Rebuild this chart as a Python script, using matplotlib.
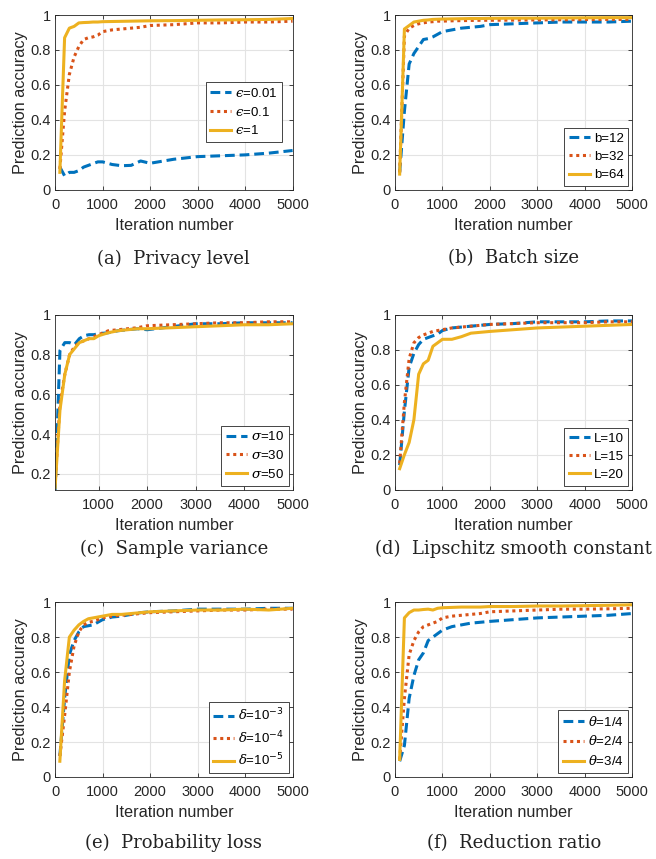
import matplotlib
matplotlib.use('Agg')
import matplotlib.pyplot as plt

plt.rcParams['font.family'] = ['Liberation Sans', 'DejaVu Sans']
plt.rcParams['mathtext.fontset'] = 'dejavuserif'

# iteration numbers shared by every curve
iters = [100, 200, 300, 400, 500, 600, 700, 800, 900, 1000,
         1200, 1400, 1600, 1800, 2000, 2500, 3000, 3500, 4000, 4500, 5000]

# (a) privacy level
acc_eps_001 = [0.13, 0.08, 0.10, 0.10, 0.11, 0.13, 0.14, 0.15, 0.16, 0.16,
               0.145, 0.138, 0.14, 0.165, 0.152, 0.175, 0.19, 0.195, 0.20, 0.21, 0.225]
acc_eps_01 = [0.12, 0.45, 0.66, 0.76, 0.82, 0.86, 0.87, 0.875, 0.885, 0.905,
              0.915, 0.92, 0.925, 0.93, 0.94, 0.945, 0.955, 0.955, 0.96, 0.96, 0.965]
acc_eps_1 = [0.10, 0.87, 0.925, 0.935, 0.955, 0.957, 0.958, 0.96, 0.96, 0.962,
             0.963, 0.964, 0.965, 0.966, 0.967, 0.968, 0.97, 0.972, 0.973, 0.975, 0.98]

# (b) batch size
acc_b12 = [0.10, 0.45, 0.72, 0.78, 0.82, 0.86, 0.865, 0.875, 0.89, 0.905,
           0.915, 0.925, 0.93, 0.935, 0.945, 0.95, 0.955, 0.96, 0.96, 0.96, 0.965]
acc_b32 = [0.10, 0.88, 0.925, 0.94, 0.95, 0.955, 0.96, 0.962, 0.965, 0.965,
           0.967, 0.968, 0.969, 0.97, 0.97, 0.971, 0.972, 0.973, 0.974, 0.975, 0.975]
acc_b64 = [0.09, 0.92, 0.94, 0.96, 0.965, 0.97, 0.972, 0.975, 0.976, 0.977,
           0.978, 0.979, 0.98, 0.98, 0.981, 0.982, 0.982, 0.983, 0.984, 0.985, 0.985]

# (c) sample variance
acc_s10 = [0.11, 0.82, 0.86, 0.86, 0.85, 0.88, 0.895, 0.90, 0.90, 0.905,
           0.91, 0.92, 0.925, 0.93, 0.925, 0.94, 0.955, 0.955, 0.96, 0.96, 0.96]
acc_s30 = [0.15, 0.55, 0.70, 0.80, 0.84, 0.86, 0.87, 0.88, 0.89, 0.90,
           0.92, 0.925, 0.93, 0.935, 0.945, 0.95, 0.955, 0.96, 0.96, 0.965, 0.965]
acc_s50 = [0.13, 0.52, 0.70, 0.80, 0.83, 0.86, 0.87, 0.88, 0.88, 0.895,
           0.91, 0.92, 0.925, 0.93, 0.93, 0.935, 0.94, 0.945, 0.95, 0.95, 0.955]

# (d) Lipschitz smooth constant
acc_L10 = [0.14, 0.45, 0.70, 0.78, 0.83, 0.86, 0.87, 0.88, 0.89, 0.91,
           0.925, 0.93, 0.935, 0.94, 0.945, 0.95, 0.96, 0.96, 0.96, 0.965, 0.965]
acc_L15 = [0.15, 0.50, 0.75, 0.84, 0.87, 0.885, 0.895, 0.905, 0.91, 0.915,
           0.925, 0.93, 0.935, 0.94, 0.945, 0.95, 0.955, 0.955, 0.955, 0.96, 0.96]
acc_L20 = [0.12, 0.20, 0.27, 0.40, 0.66, 0.72, 0.74, 0.82, 0.84, 0.86,
           0.86, 0.875, 0.895, 0.90, 0.905, 0.915, 0.925, 0.93, 0.935, 0.94, 0.945]

# (e) probability loss
acc_d3 = [0.12, 0.45, 0.70, 0.78, 0.83, 0.86, 0.865, 0.87, 0.885, 0.90,
          0.915, 0.92, 0.93, 0.94, 0.945, 0.95, 0.96, 0.96, 0.96, 0.965, 0.965]
acc_d4 = [0.12, 0.35, 0.60, 0.75, 0.83, 0.87, 0.885, 0.89, 0.90, 0.91,
          0.92, 0.925, 0.93, 0.935, 0.94, 0.945, 0.95, 0.955, 0.955, 0.96, 0.96]
acc_d5 = [0.09, 0.55, 0.80, 0.84, 0.87, 0.89, 0.905, 0.91, 0.915, 0.92,
          0.93, 0.93, 0.935, 0.94, 0.945, 0.95, 0.955, 0.955, 0.96, 0.955, 0.965]

# (f) reduction ratio
acc_t14 = [0.09, 0.18, 0.45, 0.58, 0.67, 0.71, 0.78, 0.80, 0.82, 0.84,
           0.86, 0.87, 0.88, 0.885, 0.89, 0.90, 0.91, 0.915, 0.92, 0.925, 0.935]
acc_t24 = [0.10, 0.45, 0.70, 0.78, 0.83, 0.86, 0.87, 0.88, 0.89, 0.91,
           0.92, 0.925, 0.93, 0.935, 0.945, 0.95, 0.955, 0.96, 0.96, 0.962, 0.965]
acc_t34 = [0.10, 0.91, 0.94, 0.955, 0.955, 0.958, 0.96, 0.955, 0.965, 0.968,
           0.97, 0.972, 0.972, 0.972, 0.975, 0.975, 0.978, 0.978, 0.98, 0.982, 0.985]

panels = [
    ('(a)  Privacy level', [acc_eps_001, acc_eps_01, acc_eps_1],
     ['$\u03f5$=0.01', '$\u03f5$=0.1', '$\u03f5$=1']),
    ('(b)  Batch size', [acc_b12, acc_b32, acc_b64], ['b=12', 'b=32', 'b=64']),
    ('(c)  Sample variance', [acc_s10, acc_s30, acc_s50],
     [r'$\sigma$=10', r'$\sigma$=30', r'$\sigma$=50']),
    ('(d)  Lipschitz smooth constant', [acc_L10, acc_L15, acc_L20],
     ['L=10', 'L=15', 'L=20']),
    ('(e)  Probability loss', [acc_d3, acc_d4, acc_d5],
     [r'$\delta$=10$^{\mathsf{-3}}$', r'$\delta$=10$^{\mathsf{-4}}$', r'$\delta$=10$^{\mathsf{-5}}$']),
    ('(f)  Reduction ratio', [acc_t14, acc_t24, acc_t34],
     [r'$\theta$=1/4', r'$\theta$=2/4', r'$\theta$=3/4']),
]

colors = ['#0072BD', '#D95319', '#EDB120']
styles = [(0, (3.2, 1.6)), (0, (1, 1.2)), '-']

fig = plt.figure(figsize=(6.56, 8.59), dpi=100)

col_left = [0.084, 0.602]
col_w = 0.362
row_bottom = [0.779, 0.430, 0.0955]
row_h = 0.2035
caption_y = [0.699, 0.361, 0.019]

for k, (caption, series, labels) in enumerate(panels):
    r, c = divmod(k, 2)
    ax = fig.add_axes([col_left[c], row_bottom[r], col_w, row_h])
    for vals, lab, col, ls in zip(series, labels, colors, styles):
        ax.plot(iters, vals, color=col, linestyle=ls, linewidth=2.2, label=lab)
    if k == 2:
        ax.set_xlim(100, 5000)
        ax.set_ylim(0.12, 1)
        ax.set_yticks([0.2, 0.4, 0.6, 0.8, 1.0])
        ax.set_yticklabels(['0.2', '0.4', '0.6', '0.8', '1'])
    else:
        ax.set_xlim(0, 5000)
        ax.set_ylim(0, 1)
        ax.set_yticks([0, 0.2, 0.4, 0.6, 0.8, 1.0])
        ax.set_yticklabels(['0', '0.2', '0.4', '0.6', '0.8', '1'])
    ax.set_xticks([0, 1000, 2000, 3000, 4000, 5000] if k != 2 else [1000, 2000, 3000, 4000, 5000])
    ax.grid(True, color='#e3e3e3', linewidth=0.8)
    ax.set_axisbelow(True)
    ax.tick_params(direction='in', top=True, right=True, length=3, labelsize=10.5,
                   colors='#262626', width=0.6)
    ax.tick_params(axis='x', pad=6)
    ax.tick_params(axis='y', pad=3)
    for sp in ax.spines.values():
        sp.set_color('#262626')
        sp.set_linewidth(0.6)
    ax.set_xlabel('Iteration number', fontsize=11.7, color='#262626', labelpad=4)
    ax.set_ylabel('Prediction accuracy', fontsize=11.7, color='#262626', labelpad=2)

    if k == 0:
        leg = ax.legend(loc='center right', bbox_to_anchor=(0.985, 0.445), fontsize=9.5,
                        handlelength=1.6, handletextpad=0.3, borderpad=0.35,
                        labelspacing=0.45, fancybox=False, framealpha=1)
    else:
        leg = ax.legend(loc='lower right', fontsize=9.5, handlelength=1.6,
                        handletextpad=0.3, borderpad=0.35, labelspacing=0.45,
                        borderaxespad=0.3, fancybox=False, framealpha=1)
    leg.get_frame().set_edgecolor('#262626')
    leg.get_frame().set_linewidth(0.6)

    fig.text(col_left[c] + col_w / 2, caption_y[r], caption, ha='center', va='center',
             fontsize=13, family='DejaVu Serif', color='#222222')

fig.savefig('out.png', dpi=100)
